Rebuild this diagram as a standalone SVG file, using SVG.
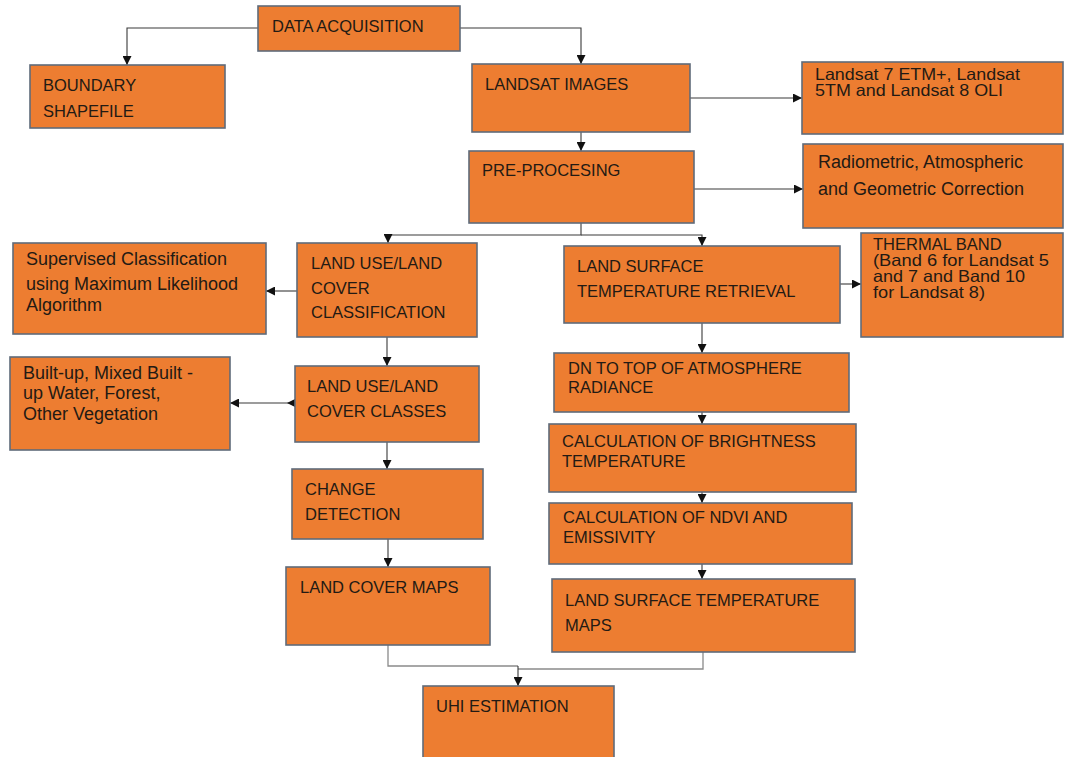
<svg xmlns="http://www.w3.org/2000/svg" width="1065" height="757" viewBox="0 0 1065 757">
<defs>
<style>
.box{fill:#ED7D31;stroke:#5F6B7A;stroke-width:1.6}
.t{font-family:"Liberation Sans",Arial,sans-serif;font-size:16.5px;fill:#231a14}
.s{font-family:"Liberation Sans",Arial,sans-serif;font-size:18px;fill:#231a14}
.n{font-family:"Liberation Sans",Arial,sans-serif;font-size:16.5px;fill:#231a14}
.c{fill:none;stroke:#3a3a3a;stroke-width:1.1}
.g{fill:none;stroke:#8a8a8a;stroke-width:1.3}
</style>
<marker id="ah" viewBox="0 0 10 10" refX="10" refY="5" markerWidth="9" markerHeight="9" markerUnits="userSpaceOnUse" orient="auto">
<path d="M0,0 L10,5 L0,10 z" fill="#111"/>
</marker>
</defs>
<rect width="1065" height="757" fill="#ffffff"/>
<g id="connectors">
<path class="c" d="M258,28 H127 V65" marker-end="url(#ah)"/>
<path class="c" d="M460,28 H581 V64" marker-end="url(#ah)"/>
<path class="c" d="M690,98 H802" marker-end="url(#ah)"/>
<path class="c" d="M581,132 V151" marker-end="url(#ah)"/>
<path class="c" d="M694,189 H803" marker-end="url(#ah)"/>
<path class="c" d="M581,223 V235 H388 V243" marker-end="url(#ah)"/>
<path class="c" d="M581,235 H702 V246" marker-end="url(#ah)"/>
<path class="c" d="M297,291 H266" marker-end="url(#ah)"/>
<path class="c" d="M387,337 V366" marker-end="url(#ah)"/>
<path class="c" d="M295,403 H230" marker-end="url(#ah)"/>
<polygon points="287,403 296,398.5 296,407.5" fill="#111"/>
<path class="c" d="M387,442 V469" marker-end="url(#ah)"/>
<path class="c" d="M388,539 V567" marker-end="url(#ah)"/>
<path class="c" d="M840,284 H861" marker-end="url(#ah)"/>
<path class="c" d="M702,323 V353" marker-end="url(#ah)"/>
<path class="c" d="M702,412 V424" marker-end="url(#ah)"/>
<path class="c" d="M702,492 V503" marker-end="url(#ah)"/>
<path class="c" d="M702,564 V579" marker-end="url(#ah)"/>
<path class="g" d="M388,645 V666 H518"/>
<path class="g" d="M703,652 V669 H518"/>
<path class="c" d="M518,666 V686" marker-end="url(#ah)"/>
</g>
<g id="data-acquisition">
<rect class="box" x="258" y="6" width="202" height="45"/>
<text class="t" x="272" y="32" font-size="17">DATA ACQUISITION</text>
</g>
<g id="boundary-shapefile">
<rect class="box" x="30" y="65" width="195" height="63"/>
<text class="t" x="43" y="91">BOUNDARY</text>
<text class="t" x="43" y="117">SHAPEFILE</text>
</g>
<g id="landsat-images">
<rect class="box" x="472" y="64" width="218" height="68"/>
<text class="t" x="485" y="90">LANDSAT IMAGES</text>
</g>
<g id="landsat-sensors">
<rect class="box" x="802" y="62" width="261" height="72"/>
<text class="n" x="815" y="80" textLength="205" lengthAdjust="spacingAndGlyphs">Landsat 7 ETM+, Landsat</text>
<text class="n" x="815" y="96" textLength="188" lengthAdjust="spacingAndGlyphs">5TM and Landsat 8 OLI</text>
</g>
<g id="pre-processing">
<rect class="box" x="469" y="151" width="225" height="72"/>
<text class="t" x="482" y="176">PRE-PROCESING</text>
</g>
<g id="corrections">
<rect class="box" x="803" y="144" width="260" height="84"/>
<text class="s" x="818" y="168">Radiometric, Atmospheric</text>
<text class="s" x="818" y="195">and Geometric Correction</text>
</g>
<g id="supervised-classification">
<rect class="box" x="13" y="243" width="253" height="91"/>
<text class="s" x="26" y="265">Supervised Classification</text>
<text class="s" x="26" y="290">using Maximum Likelihood</text>
<text class="s" x="26" y="311">Algorithm</text>
</g>
<g id="lulc-classification">
<rect class="box" x="297" y="243" width="180" height="94"/>
<text class="t" x="311" y="269">LAND USE/LAND</text>
<text class="t" x="311" y="294">COVER</text>
<text class="t" x="311" y="318">CLASSIFICATION</text>
</g>
<g id="lst-retrieval">
<rect class="box" x="564" y="246" width="276" height="77"/>
<text class="t" x="577" y="272">LAND SURFACE</text>
<text class="t" x="577" y="297">TEMPERATURE RETRIEVAL</text>
</g>
<g id="thermal-band">
<rect class="box" x="861" y="233" width="202" height="104"/>
<text class="n" x="873" y="250">THERMAL BAND</text>
<text class="n" x="873" y="266" textLength="176" lengthAdjust="spacingAndGlyphs">(Band 6 for Landsat 5</text>
<text class="n" x="873" y="282" textLength="152" lengthAdjust="spacingAndGlyphs">and 7 and Band 10</text>
<text class="n" x="873" y="298" textLength="112" lengthAdjust="spacingAndGlyphs">for Landsat 8)</text>
</g>
<g id="built-up-classes">
<rect class="box" x="10" y="357" width="220" height="93"/>
<text class="s" x="23" y="379">Built-up, Mixed Built -</text>
<text class="s" x="23" y="399">up Water, Forest,</text>
<text class="s" x="23" y="420">Other Vegetation</text>
</g>
<g id="lulc-classes">
<rect class="box" x="295" y="366" width="184" height="76"/>
<text class="t" x="307" y="392">LAND USE/LAND</text>
<text class="t" x="307" y="417">COVER CLASSES</text>
</g>
<g id="dn-to-toa">
<rect class="box" x="554" y="353" width="295" height="59"/>
<text class="t" x="568" y="374">DN TO TOP OF ATMOSPHERE</text>
<text class="t" x="568" y="393">RADIANCE</text>
</g>
<g id="brightness-temperature">
<rect class="box" x="549" y="424" width="307" height="68"/>
<text class="t" x="562" y="447">CALCULATION OF BRIGHTNESS</text>
<text class="t" x="562" y="467">TEMPERATURE</text>
</g>
<g id="change-detection">
<rect class="box" x="292" y="469" width="191" height="70"/>
<text class="t" x="305" y="495">CHANGE</text>
<text class="t" x="305" y="520">DETECTION</text>
</g>
<g id="ndvi-emissivity">
<rect class="box" x="549" y="503" width="303" height="61"/>
<text class="t" x="563" y="523">CALCULATION OF NDVI AND</text>
<text class="t" x="563" y="543">EMISSIVITY</text>
</g>
<g id="land-cover-maps">
<rect class="box" x="286" y="567" width="204" height="78"/>
<text class="t" x="300" y="593">LAND COVER MAPS</text>
</g>
<g id="lst-maps">
<rect class="box" x="552" y="579" width="303" height="73"/>
<text class="t" x="565" y="606">LAND SURFACE TEMPERATURE</text>
<text class="t" x="565" y="631">MAPS</text>
</g>
<g id="uhi-estimation">
<rect class="box" x="423" y="686" width="191" height="75"/>
<text class="t" x="436" y="712">UHI ESTIMATION</text>
</g>
</svg>
